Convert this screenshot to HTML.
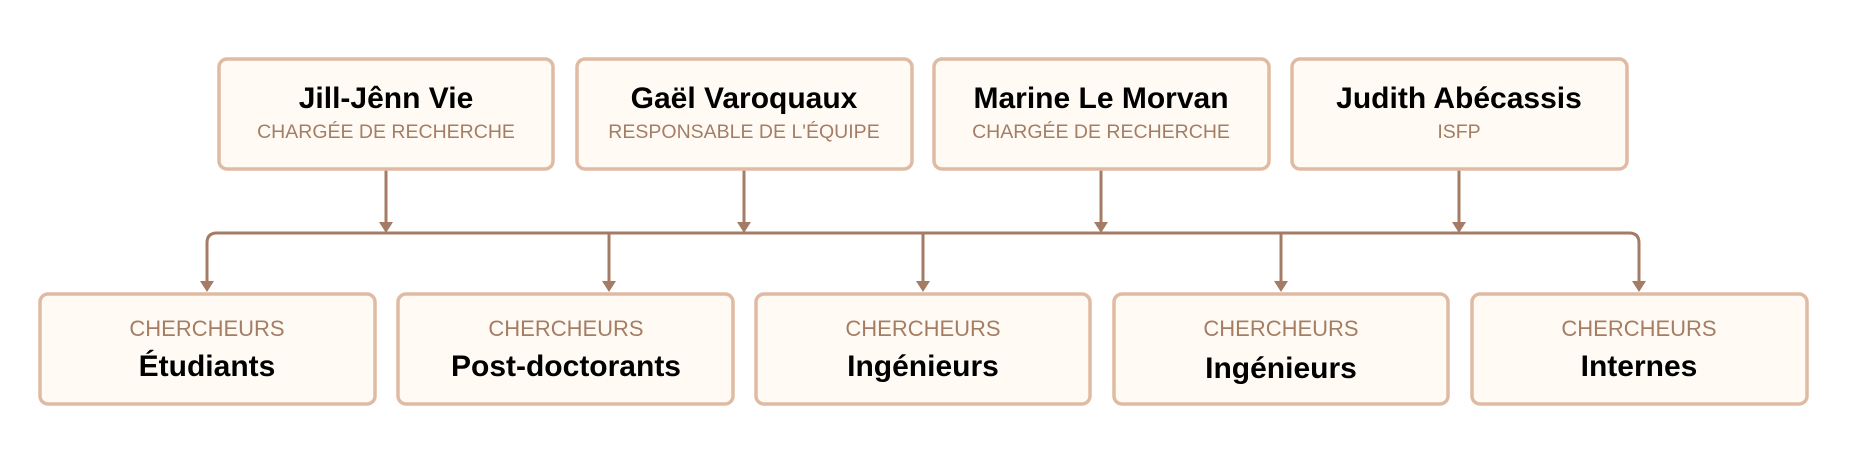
<!DOCTYPE html>
<html><head><meta charset="utf-8"><style>
html,body{margin:0;padding:0;background:#fff;}
svg{display:block;font-family:"Liberation Sans",Arial,sans-serif;}
.b{fill:#fffbf4;stroke:#dfbba4;stroke-width:3.5;}
.n{font-weight:bold;font-size:30px;fill:#000;text-anchor:middle;}
.s{font-size:19.5px;fill:#a57d64;text-anchor:middle;}
.c{font-size:22px;fill:#a57d64;text-anchor:middle;}
.l{stroke:#a47c66;stroke-width:3;fill:none;}
.a{fill:#a47c66;}
</style></head><body>
<svg width="1854" height="466" viewBox="0 0 1854 466">
<g class="l">
<line x1="386" y1="170" x2="386" y2="226"/>
<line x1="744" y1="170" x2="744" y2="226"/>
<line x1="1101" y1="170" x2="1101" y2="226"/>
<line x1="1459" y1="170" x2="1459" y2="226"/>
<path d="M207 285 V243 Q207 233 217 233 H1629 Q1639 233 1639 243 V285"/>
<line x1="609" y1="233" x2="609" y2="285"/>
<line x1="923" y1="233" x2="923" y2="285"/>
<line x1="1281" y1="233" x2="1281" y2="285"/>
</g>
<g class="a">
<polygon points="379,222 393,222 386,233"/>
<polygon points="737,222 751,222 744,233"/>
<polygon points="1094,222 1108,222 1101,233"/>
<polygon points="1452,222 1466,222 1459,233"/>
<polygon points="200,281 214,281 207,292"/>
<polygon points="602,281 616,281 609,292"/>
<polygon points="916,281 930,281 923,292"/>
<polygon points="1274,281 1288,281 1281,292"/>
<polygon points="1632,281 1646,281 1639,292"/>
</g>
<rect class="b" x="219" y="59" width="334" height="110" rx="8"/>
<rect class="b" x="577" y="59" width="335" height="110" rx="8"/>
<rect class="b" x="934" y="59" width="335" height="110" rx="8"/>
<rect class="b" x="1292" y="59" width="335" height="110" rx="8"/>
<text class="n" x="386" y="108">Jill-Jênn Vie</text>
<text class="s" x="386" y="138">CHARGÉE DE RECHERCHE</text>
<text class="n" x="744" y="108">Gaël Varoquaux</text>
<text class="s" x="744" y="138">RESPONSABLE DE L'ÉQUIPE</text>
<text class="n" x="1101" y="108">Marine Le Morvan</text>
<text class="s" x="1101" y="138">CHARGÉE DE RECHERCHE</text>
<text class="n" x="1459" y="108">Judith Abécassis</text>
<text class="s" x="1459" y="138">ISFP</text>
<rect class="b" x="40" y="294" width="335" height="110" rx="8"/>
<rect class="b" x="398" y="294" width="335" height="110" rx="8"/>
<rect class="b" x="756" y="294" width="334" height="110" rx="8"/>
<rect class="b" x="1114" y="294" width="334" height="110" rx="8"/>
<rect class="b" x="1472" y="294" width="335" height="110" rx="8"/>
<text class="c" x="207" y="336">CHERCHEURS</text>
<text class="n" x="207" y="376">Étudiants</text>
<text class="c" x="566" y="336">CHERCHEURS</text>
<text class="n" x="566" y="376">Post-doctorants</text>
<text class="c" x="923" y="336">CHERCHEURS</text>
<text class="n" x="923" y="376">Ingénieurs</text>
<text class="c" x="1281" y="336">CHERCHEURS</text>
<text class="n" x="1281" y="378">Ingénieurs</text>
<text class="c" x="1639" y="336">CHERCHEURS</text>
<text class="n" x="1639" y="376">Internes</text>
</svg>
</body></html>
